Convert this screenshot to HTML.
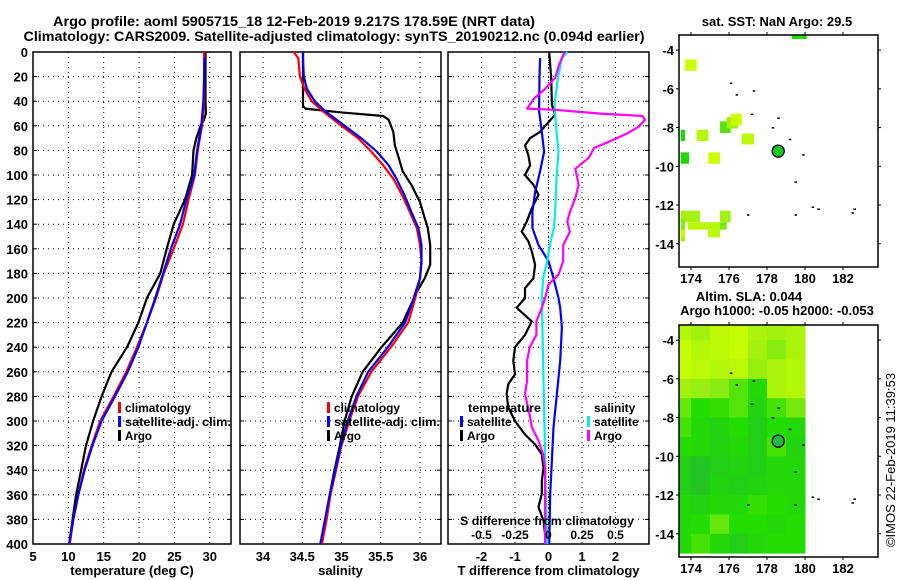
<!DOCTYPE html>
<html><head><meta charset="utf-8"><title>Argo profile</title>
<style>
html,body{margin:0;padding:0;background:#fff;}
svg{display:block;font-family:"Liberation Sans",Arial,sans-serif;font-weight:bold;}
</style></head>
<body>
<svg id="fig" width="900" height="580" viewBox="0 0 900 580" xmlns="http://www.w3.org/2000/svg">
<rect x="0" y="0" width="900" height="580" fill="#fff"/>
<text x="294" y="26" font-size="14" text-anchor="middle" textLength="482" lengthAdjust="spacingAndGlyphs">Argo profile: aoml 5905715_18 12-Feb-2019 9.217S 178.59E (NRT data)</text>
<text x="334" y="41" font-size="14" text-anchor="middle" textLength="621" lengthAdjust="spacingAndGlyphs">Climatology: CARS2009. Satellite-adjusted climatology: synTS_20190212.nc (0.094d earlier)</text>
<g id="g1"></g>
<g id="g2"></g>
<g id="g3"></g>
<g id="m1"></g>
<g id="m2"></g>
<text transform="translate(895,460) rotate(-90)" font-size="13" font-weight="normal" text-anchor="middle">©IMOS 22-Feb-2019 11:39:53</text>
</svg>
<script>
// ---- profile data ----
const depthTicks = [0,20,40,60,80,100,120,140,160,180,200,220,240,260,280,300,320,340,360,380,400];
const tempTicks = [5,10,15,20,25,30];
const salTicks = [34,34.5,35,35.5,36];
const salTickLabels = ["34","34.5","35","35.5","36"];
const tdiffTicks = [-2,-1,0,1,2];
const sdiffTicks = [-0.5,-0.25,0,0.25,0.5];
const sdiffTickLabels = ["-0.5","-0.25","0","0.25","0.5"];

const tDepth = [0,20,40,60,80,100,120,140,160,180,200,220,240,260,280,300,320,340,360,380,400];
const tClim = [29.2,29.2,29.2,28.9,28.3,27.9,27.0,26.2,24.9,23.5,22.4,21.1,19.7,18.2,16.4,14.5,13.3,12.2,11.4,10.7,10.2];
const tSatDepth = [5,20,40,60,80,100,120,140,160,180,200,220,240,260,280,300,320,340,360,380,400];
const tSat = [29.3,29.2,29.1,28.8,28.2,27.8,26.7,25.8,24.5,23.4,22.3,21.1,19.9,18.4,16.6,14.7,13.4,12.3,11.4,10.7,10.1];
const tArgoDepth = [0,20,40,50,55,60,70,80,100,120,140,160,180,200,220,240,260,280,300,320,340,360,380,400];
const tArgo = [29.4,29.4,29.4,29.45,29.2,28.7,28.1,27.7,27.5,26.5,24.9,23.9,23.0,21.1,19.9,18.3,16.1,14.7,13.5,12.5,11.8,11.1,10.6,10.1];

const sDepth = [0,5,20,30,40,48,59,70,81,92,103,116,130,143,157,170,184,200,220,240,260,280,300,320,340,360,380,400];
const sClim = [34.39,34.45,34.47,34.53,34.62,34.76,34.98,35.21,35.38,35.53,35.66,35.77,35.87,35.96,36.0,36.02,36.0,35.94,35.85,35.63,35.38,35.21,35.1,35.0,34.93,34.86,34.81,34.75];
const sSat = [34.51,34.51,34.52,34.56,34.66,34.79,35.02,35.25,35.45,35.6,35.7,35.8,35.89,35.98,36.02,36.02,36.0,35.92,35.81,35.59,35.34,35.19,35.08,34.99,34.92,34.85,34.79,34.73];
const sArgoDepth = [0,44,46,49,52,55,65,76,84,97,108,122,135,143,157,173,184,195,220,240,260,280,300,320,340,360,380,400];
const sArgo = [34.51,34.51,34.54,34.98,35.53,35.6,35.66,35.68,35.72,35.78,35.89,36.0,36.06,36.1,36.13,36.13,36.06,35.96,35.78,35.51,35.27,35.13,35.04,34.98,34.91,34.85,34.8,34.74];

const dtArgoDepth = [0,21,43,51,57,65,70,76,84,92,100,108,116,127,138,146,154,162,173,184,192,200,208,219,230,240,251,262,270,278,289,300,311,319,327,338,349,359,370,381,392,400];
const dtArgo = [0.02,0.08,0.1,0.2,0,-0.25,-0.55,-0.7,-0.6,-0.55,-0.7,-0.45,-0.3,-0.5,-0.65,-0.8,-0.6,-0.5,-0.4,-0.45,-0.7,-0.7,-0.95,-0.5,-0.7,-1.0,-1.05,-1.0,-1.2,-1.25,-1.2,-1.0,-0.7,-0.4,-0.2,-0.15,-0.2,-0.2,-0.3,-0.15,-0.1,-0.05];
const dtSatDepth = [5,21,48,65,81,97,114,130,143,157,170,184,200,208,224,251,278,305,332,359,400];
const dtSat = [-0.25,-0.27,-0.28,-0.2,-0.13,-0.25,-0.4,-0.48,-0.48,-0.3,0,0.15,0.3,0.35,0.4,0.35,0.25,0.15,0.1,0.05,0.02];
const dsSatDepth = [0,5,21,43,65,81,103,130,143,157,170,184,200,251,305,359,400];
const dsSat = [0.14,0.1,0.07,0.045,0.06,0.075,0.06,0.05,0.04,0.01,-0.01,-0.04,-0.05,-0.04,-0.03,-0.02,-0.01];
const dsArgoDepth = [0,10,21,30,38,46,47,50,52,55,61,66,73,78,86,95,108,119,130,138,146,157,170,181,189,200,208,219,230,240,251,267,278,295,305,316,327,338,359,400];
const dsArgo = [0.12,0.08,0.05,-0.025,-0.11,-0.16,0.05,0.375,0.7,0.72,0.67,0.59,0.45,0.34,0.3,0.2,0.225,0.2,0.16,0.14,0.16,0.11,0.11,0.075,0,-0.025,-0.05,-0.09,-0.09,-0.14,-0.16,-0.16,-0.175,-0.14,-0.125,-0.075,-0.04,-0.025,-0.025,-0.025];

// ---- map data ----
const lonTicks = [174,176,178,180,182];
const latTicks = [-4,-6,-8,-10,-12,-14];
const argoLon = 178.59, argoLat = -9.217;
const sstLon0 = [179.30,173.69,175.53,175.88,176.11,173.46,174.30,176.67,173.46,174.91,173.46,175.53,173.46,173.84,174.90,175.53,173.46,174.90,173.46];
const sstLon1 = [180.09,174.30,176.09,176.49,176.67,173.69,174.91,177.32,173.90,175.53,174.48,176.09,173.69,174.90,175.53,175.88,173.69,175.53,173.69];
const sstLat0 = [-3.22,-4.48,-7.68,-7.45,-7.28,-8.11,-8.11,-8.31,-9.28,-9.28,-12.29,-12.29,-12.70,-12.89,-12.89,-12.89,-13.27,-13.27,-13.67];
const sstLat1 = [-3.43,-5.07,-8.28,-8.05,-7.88,-8.70,-8.70,-8.87,-9.87,-9.87,-12.89,-12.89,-13.27,-13.27,-13.27,-13.27,-13.67,-13.67,-13.88];
const sstVal  = [0.35,1.0,0.5,0.75,1.0,0.25,0.85,0.9,0.3,1.0,0.75,0.75,0.65,0.9,0.85,0.6,0.95,0.9,0.75];
const islandLon = [176.1,176.4,177.3,177.2,178.3,178.6,179.2,179.9,179.5,180.4,180.7,182.5,182.6,177.0,179.5];
const islandLat = [-5.7,-6.3,-6.1,-7.3,-8.0,-7.5,-8.6,-9.4,-10.8,-12.1,-12.2,-12.4,-12.2,-12.5,-12.5];
const slaLats = [-3.5,-4.5,-5.5,-6.5,-7.5,-8.5,-9.5,-10.5,-11.5,-12.5,-13.5,-14.5];
const slaLons = [173.5,174.5,175.5,176.5,177.5,178.5,179.5];
const slaRow0 = [0.85,0.75,0.9,0.95,0.8,0.75,0.8];
const slaRow1 = [0.95,0.85,0.9,0.95,0.75,0.65,0.8];
const slaRow2 = [0.95,0.9,0.85,0.9,0.7,0.8,0.85];
const slaRow3 = [0.75,0.7,0.65,0.5,0.3,0.8,0.85];
const slaRow4 = [0.55,0.35,0.4,0.5,0.25,0.45,0.6];
const slaRow5 = [0.45,0.3,0.25,0.35,0.2,0.35,0.3];
const slaRow6 = [0.35,0.3,0.25,0.3,0.2,0.45,0.25];
const slaRow7 = [0.2,0.1,0.2,0.25,0.2,0.3,0.3];
const slaRow8 = [0.2,0.1,0.25,0.2,0.25,0.3,0.3];
const slaRow9 = [0.3,0.25,0.3,0.3,0.4,0.35,0.3];
const slaRow10 = [0.3,0.35,0.55,0.35,0.35,0.3,0.35];
const slaRow11 = [0.3,0.45,0.3,0.2,0.3,0.35,0.35];
const slaGrid = [slaRow0,slaRow1,slaRow2,slaRow3,slaRow4,slaRow5,slaRow6,slaRow7,slaRow8,slaRow9,slaRow10,slaRow11];

const NS = "http://www.w3.org/2000/svg";
function mk(parent, tag, attrs, text){
  const e = document.createElementNS(NS, tag);
  for (const k in attrs) e.setAttribute(k, attrs[k]);
  if (text !== undefined) e.textContent = text;
  parent.appendChild(e);
  return e;
}
const TOP = 52, BOT = 544;
function yD(d){ return TOP + d*(BOT-TOP)/400; }

function panel(g, x0, x1, vmin, vmax, ticks, labels, xtitle, name){
  const xs = v => x0 + (v-vmin)*(x1-x0)/(vmax-vmin);
  ticks.forEach((t,i)=>{
    const X = xs(t);
    if (X > x0+2 && X < x1-2){
      const l = mk(g,'line',{x1:X,y1:TOP,x2:X,y2:BOT,stroke:'#000','stroke-width':1,'stroke-dasharray':'1,4'});
      
      
    }
    const lb = mk(g,'text',{x:X,y:561,'font-size':13,'text-anchor':'middle'}, labels[i]);
    
    
  });
  depthTicks.forEach(d=>{
    const Y = yD(d);
    if (d>0 && d<400){
      const l = mk(g,'line',{x1:x0,y1:Y,x2:x1,y2:Y,stroke:'#000','stroke-width':1,'stroke-dasharray':'1,4'});
      
      
      mk(g,'line',{x1:x0,y1:Y,x2:x0+4,y2:Y,stroke:'#000'});
      mk(g,'line',{x1:x1-4,y1:Y,x2:x1,y2:Y,stroke:'#000'});
    }
  });
  const fr = mk(g,'rect',{x:x0,y:TOP,width:x1-x0,height:BOT-TOP,fill:'none',stroke:'#000','stroke-width':1.5});
  
  
  if (xtitle){
    const t = mk(g,'text',{x:(x0+x1)/2,y:575,'font-size':13,'text-anchor':'middle'}, xtitle);
    
    
  }
  return xs;
}
function line(g, xs, depths, vals, color, name){
  const pts = depths.map((d,i)=> xs(vals[i]).toFixed(1)+','+yD(d).toFixed(1)).join(' ');
  const p = mk(g,'polyline',{points:pts,fill:'none',stroke:color,'stroke-width':2.2,'stroke-linejoin':'round'});
  
  
}
function legendEntry(g, x, y, color, label, name, len){
  mk(g,'rect',{x:x,y:y-10,width:3,height:11,fill:color});
  const attrs = {x:x+7,y:y,'font-size':12};
  if (len){ attrs.textLength = len; attrs.lengthAdjust = 'spacingAndGlyphs'; }
  const t = mk(g,'text',attrs, label);
  
  
}

const g1 = document.getElementById('g1');
depthTicks.forEach(d=>{
  const t = mk(g1,'text',{x:28,y:yD(d)+5,'font-size':13,'text-anchor':'end'}, String(d));
  
  
});
const xT = panel(g1, 33, 231, 5, 33.0, tempTicks, tempTicks.map(String), 'temperature (deg C)', 'temp');
line(g1, xT, tArgoDepth, tArgo, '#000', 'temp-argo-line');
line(g1, xT, tDepth, tClim, '#f00', 'temp-climatology-line');
line(g1, xT, tSatDepth, tSat, '#00f', 'temp-satellite-line');
legendEntry(g1, 118, 412, '#f00', 'climatology', 'legend-climatology', 66);
legendEntry(g1, 118, 426, '#00f', 'satellite-adj. clim.', 'legend-satellite-adj', 106);
legendEntry(g1, 118, 440, '#000', 'Argo', 'legend-argo', 27);

const g2 = document.getElementById('g2');
const xS = panel(g2, 240, 441, 33.707, 36.268, salTicks, salTickLabels, 'salinity', 'sal');
line(g2, xS, sArgoDepth, sArgo, '#000', 'sal-argo-line');
line(g2, xS, sDepth, sClim, '#f00', 'sal-climatology-line');
line(g2, xS, sDepth, sSat, '#00f', 'sal-satellite-line');
legendEntry(g2, 327, 412, '#f00', 'climatology', 'legend-climatology', 66);
legendEntry(g2, 327, 426, '#00f', 'satellite-adj. clim.', 'legend-satellite-adj', 106);
legendEntry(g2, 327, 440, '#000', 'Argo', 'legend-argo', 27);

const g3 = document.getElementById('g3');
const xDT = panel(g3, 448, 649, -3.0, 3.0, tdiffTicks, tdiffTicks.map(String), 'T difference from climatology', 'diff');
const xDS = v => xDT(v*4);
const zl = mk(g3,'line',{x1:xDT(0),y1:TOP,x2:xDT(0),y2:BOT,stroke:'#000','stroke-width':1,'stroke-dasharray':'1,3'});


line(g3, xDT, dtArgoDepth, dtArgo, '#000', 't-diff-argo-line');
line(g3, xDT, dtSatDepth, dtSat, '#00f', 't-diff-satellite-line');
line(g3, xDS, dsSatDepth, dsSat, '#0ee', 's-diff-satellite-line');
line(g3, xDS, dsArgoDepth, dsArgo, '#f0f', 's-diff-argo-line');
{
  const t = mk(g3,'text',{x:468,y:412,'font-size':12,textLength:73,lengthAdjust:'spacingAndGlyphs'},'temperature');
   
  const s = mk(g3,'text',{x:594,y:412,'font-size':12},'salinity');
   
}
legendEntry(g3, 460, 426, '#00f', 'satellite', 'legend-t-satellite');
legendEntry(g3, 460, 440, '#000', 'Argo', 'legend-t-argo');
legendEntry(g3, 587, 426, '#0ee', 'satellite', 'legend-s-satellite');
legendEntry(g3, 587, 440, '#f0f', 'Argo', 'legend-s-argo');
{
  const t = mk(g3,'text',{x:547,y:525,'font-size':12,'text-anchor':'middle',textLength:174,lengthAdjust:'spacingAndGlyphs'},'S difference from climatology');
   
  sdiffTicks.forEach((v,i)=>{
    const l = mk(g3,'text',{x:xDS(v),y:539,'font-size':12,'text-anchor':'middle'}, sdiffTickLabels[i]);
     
  });
}

const MX0 = 679, MX1 = 878, LON0 = 173.37, LON1 = 183.84, LAT0 = -3.22, LAT1 = -15.2;
function colorOf(v){
  const stops = [[0,[0x22,0xbb,0x33]],[0.35,[0x22,0xdd,0x00]],[0.7,[0x99,0xee,0x11]],[1,[0xcc,0xff,0x00]]];
  for (let i=1;i<stops.length;i++){
    if (v <= stops[i][0]){
      const a = stops[i-1], b = stops[i], f = (v-a[0])/(b[0]-a[0]);
      const c = a[1].map((q,k)=>Math.round(q+(b[1][k]-q)*f));
      return 'rgb('+c.join(',')+')';
    }
  }
  return 'rgb(204,255,0)';
}
function mapFrame(g, MY0, MY1, name, drawCells){
  const xl = lon => MX0 + (lon-LON0)*(MX1-MX0)/(LON1-LON0);
  const yl = lat => MY0 + (LAT0-lat)*(MY1-MY0)/(LAT0-LAT1);
  const clipId = name+'-clip';
  const cp = mk(g,'clipPath',{id:clipId});
  mk(cp,'rect',{x:MX0,y:MY0,width:MX1-MX0,height:MY1-MY0});
  const inner = mk(g,'g',{'clip-path':'url(#'+clipId+')'});
  drawCells(inner, xl, yl);
  islandLon.forEach((lo,i)=>{
    const d = mk(inner,'rect',{x:xl(lo)-1,y:yl(islandLat[i])-0.5,width:2.5,height:1.5,fill:'#000'});
    
    
  });
  const mark = mk(inner,'circle',{cx:xl(argoLon),cy:yl(argoLat),r:6,fill:name==='sst-map'?'#11cc22':'#22bb44',stroke:'#000','stroke-width':1.3});
  
  
  const fr = mk(g,'rect',{x:MX0,y:MY0,width:MX1-MX0,height:MY1-MY0,fill:'none',stroke:'#000','stroke-width':1.5});
  
  
  lonTicks.forEach(lo=>{
    const X = xl(lo);
    mk(g,'line',{x1:X,y1:MY0-3,x2:X,y2:MY0,stroke:'#000'});
    mk(g,'line',{x1:X,y1:MY1,x2:X,y2:MY1+3,stroke:'#000'});
    const t = mk(g,'text',{x:X,y:MY1+16,'font-size':13,'text-anchor':'middle'}, String(lo));
    
    
  });
  latTicks.forEach(la=>{
    const Y = yl(la);
    mk(g,'line',{x1:MX0-3,y1:Y,x2:MX0,y2:Y,stroke:'#000'});
    mk(g,'line',{x1:MX1,y1:Y,x2:MX1+3,y2:Y,stroke:'#000'});
    const t = mk(g,'text',{x:MX0-5,y:Y+5,'font-size':13,'text-anchor':'end'}, String(la));
    
    
  });
}
const m1 = document.getElementById('m1');
{
  const t = mk(m1,'text',{x:777,y:26,'font-size':13,'text-anchor':'middle'},'sat. SST: NaN Argo: 29.5');
   
}
mapFrame(m1, 35, 267, 'sst-map', (g, xl, yl)=>{
  sstVal.forEach((v,i)=>{
    const r = mk(g,'rect',{x:xl(sstLon0[i]),y:yl(sstLat0[i]),width:xl(sstLon1[i])-xl(sstLon0[i]),height:yl(sstLat1[i])-yl(sstLat0[i]),fill:colorOf(v)});
    
    
  });
});
const m2 = document.getElementById('m2');
{
  const t = mk(m2,'text',{x:749,y:301,'font-size':13,'text-anchor':'middle'},'Altim. SLA: 0.044');
   
  const t2 = mk(m2,'text',{x:777,y:315,'font-size':13,'text-anchor':'middle'},'Argo h1000: -0.05 h2000: -0.053');
   
}
mapFrame(m2, 325, 557, 'sla-map', (g, xl, yl)=>{
  slaGrid.forEach((row,ri)=>{
    row.forEach((v,ci)=>{
      const lo = slaLons[ci], la = slaLats[ri];
      const x0 = xl(lo-0.5), x1 = xl(Math.min(lo+0.5, 180.09));
      const r = mk(g,'rect',{x:x0,y:yl(la+0.5),width:x1-x0+0.5,height:yl(la-0.5)-yl(la+0.5)+0.5,fill:colorOf(v)});
      
      
    });
  });
});
</script>
</body></html>
